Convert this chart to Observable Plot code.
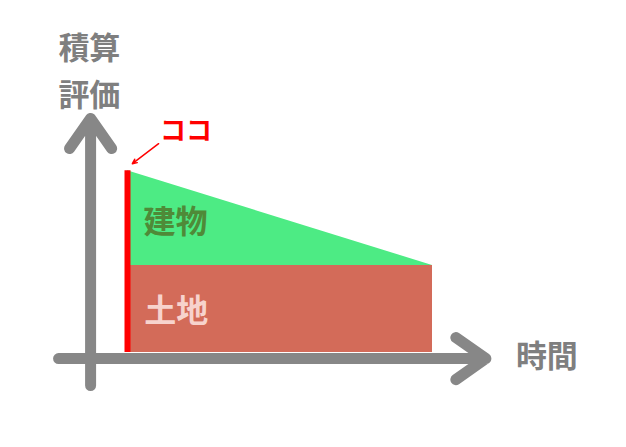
<!DOCTYPE html>
<html><head><meta charset="utf-8">
<script src="https://cdn.jsdelivr.net/npm/d3@7"></script>
<script src="https://cdn.jsdelivr.net/npm/@observablehq/plot@0.6"></script>
<style>body{margin:0;background:#fff}</style>
</head><body><div id="chart"></div>
<script>
// conceptual data (time in arbitrary units, value in arbitrary units)
const times = [0, 10];
const landValue = [1, 1];
const buildingValue = [1.09, 0];
// axis arrows (data units)
const yAxisArrow = {x: -1.21, y1: -0.38, y2: 2.69};
const xAxisArrow = {y: -0.07, x1: -2.26, x2: 11.75};
// labels
const labels = [
  {t: 1.57, v: 1.49, text: "建物", color: "#4f8a38", size: 32},
  {t: 1.60, v: 0.47, text: "土地", color: "#f7d3cd", size: 32},
  {t: 1.92, v: 2.54, text: "ココ", color: "#ff0000", size: 26},
  {t: 13.75, v: -0.05, text: "時間", color: "#7f7f7f", size: 31},
  {t: -1.25, v: 3.49, text: "積算", color: "#7f7f7f", size: 31},
  {t: -1.25, v: 2.95, text: "評価", color: "#7f7f7f", size: 31}
];
const pointer = {x1: 1.02, y1: 2.40, x2: 0.16, y2: 2.17};

const rows = times.map((t, i) => ({t, land: landValue[i], top: landValue[i] + buildingValue[i]}));

const chart = Plot.plot({
  width: 626, height: 447,
  margin: 0,
  x: {domain: [0, 10], range: [127, 432], axis: null},
  y: {domain: [0, 1], range: [352, 265], axis: null},
  style: {background: "#fff"},
  marks: [
    Plot.areaY(rows, {x: "t", y1: 0, y2: "land", fill: "#d36b59"}),
    Plot.areaY(rows, {x: "t", y1: "land", y2: "top", fill: "#4deb84"}),
    Plot.ruleX([0], {y1: 0, y2: rows[0].top, stroke: "#ff0000", strokeWidth: 6}),
    Plot.arrow([yAxisArrow], {x1: "x", x2: "x", y1: "y1", y2: "y2", stroke: "#878787", strokeWidth: 11, headLength: 5, headAngle: 70, strokeLinecap: "round", strokeLinejoin: "round"}),
    Plot.arrow([xAxisArrow], {y1: "y", y2: "y", x1: "x1", x2: "x2", stroke: "#878787", strokeWidth: 11, headLength: 5, headAngle: 70, strokeLinecap: "round", strokeLinejoin: "round"}),
    Plot.arrow([pointer], {x1: "x1", y1: "y1", x2: "x2", y2: "y2", stroke: "#ff0000", strokeWidth: 1.5, headLength: 5, headAngle: 50}),
    Plot.text(labels, {x: "t", y: "v", text: "text", fill: "color", fontSize: "size", fontWeight: "bold", fontFamily: "'Noto Sans CJK JP', sans-serif"})
  ]
});
document.getElementById("chart").append(chart);
</script></body></html>
